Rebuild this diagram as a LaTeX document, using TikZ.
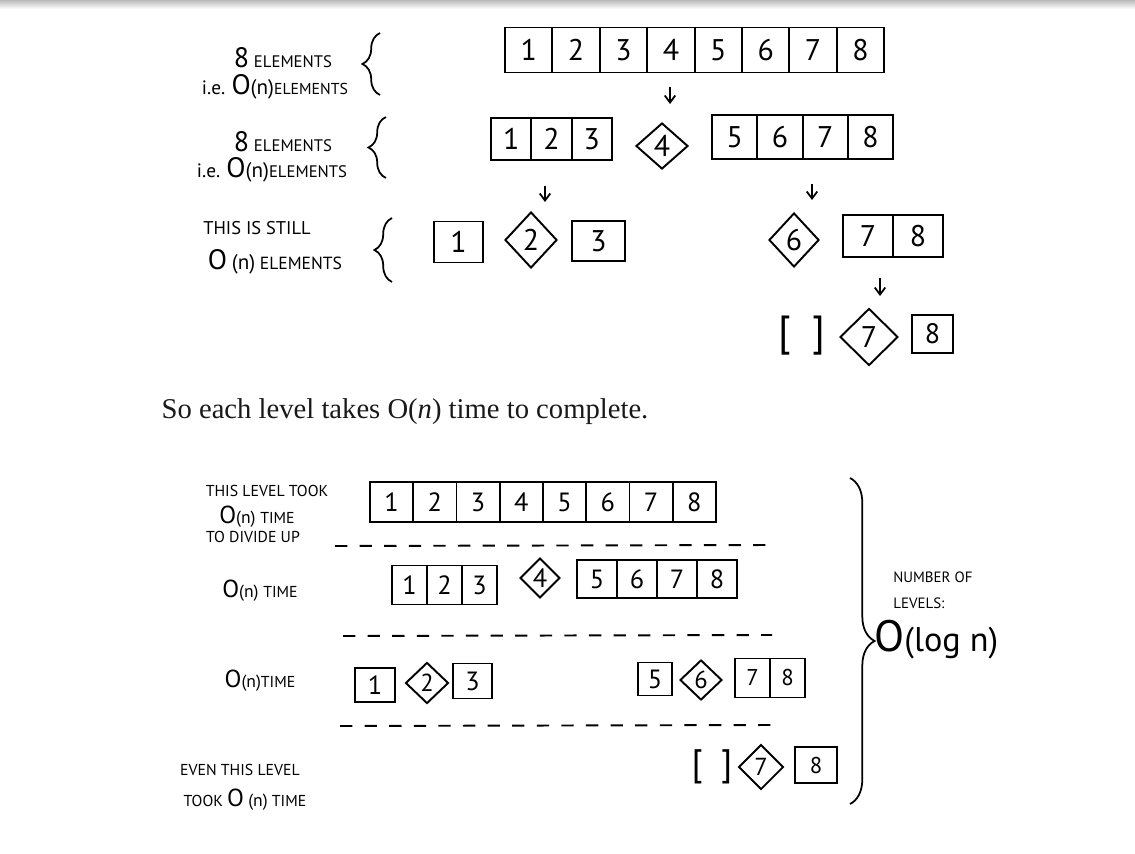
\documentclass[tikz,border=0pt]{standalone}
\usepackage{fontspec}
\setmainfont{Liberation Serif}
\newfontfamily\hand{PT Sans}
\usetikzlibrary{shapes.geometric,decorations.pathreplacing,arrows.meta}
\newcommand\fs[1]{\fontsize{#1}{#1}\selectfont}
% \cells{name}{left x}{center y}{cell width}{height}{font size}{list}
\newcommand\cells[7]{%
  \foreach \v [count=\i] in {#7} {%
    \node[cell,minimum width={#4*0.02cm},minimum height={#5*0.02cm},font={\hand\fs{#6}}]
      (#1-\i) at ({#2+(\i-0.5)*#4},#3) {\v};}}
\begin{document}
\begin{tikzpicture}[x=0.02cm,y=-0.02cm,
  cell/.style={draw,line width=1.1pt,inner sep=0pt},
  piv/.style={draw,diamond,line width=1.1pt,inner sep=0pt,font=\hand},
  lab/.style={font=\hand,inner sep=0pt,align=center},
  arr/.style={line width=1pt,-{Straight Barb[length=4pt,width=6pt]}},
  brc/.style={decorate,decoration={brace,amplitude=#1},line width=1pt},
  dsh/.style={line width=1.1pt,dash pattern=on 7pt off 7pt},
]
\path[use as bounding box] (0,0) rectangle (1135,854);
\shade[top color=gray!55,bottom color=white] (0,0) rectangle (1135,9);

% ---------------- top part ----------------
\node[lab] (t1a) at (283,58) {{\fs{16}8} {\fs{9.5}ELEMENTS}};
\node[lab] (t1b) at (275,87) {{\fs{11}i.e.} {\fs{16}O}{\fs{12}(n)}{\fs{9}ELEMENTS}};
\draw[brc=10pt] (380,95) -- (380,33);
\node[lab] (t2a) at (283,142) {{\fs{16}8} {\fs{9.5}ELEMENTS}};
\node[lab] (t2b) at (272,170) {{\fs{11}i.e.} {\fs{16}O}{\fs{12}(n)}{\fs{9.5}ELEMENTS}};
\draw[brc=10pt] (386,178) -- (386,117);
\node[lab] (t3a) at (257,228) {\fs{10.5}THIS IS STILL};
\node[lab] (t3b) at (275,262) {{\fs{16}O} {\fs{12}(n)} {\fs{10}ELEMENTS}};
\draw[brc=10pt] (392,282) -- (392,218);

\cells{r1}{505}{50}{47.4}{45}{17}{1,2,3,4,5,6,7,8}
\cells{r2a}{491}{139}{40.3}{42}{17}{1,2,3}
\node[piv,minimum width={52*0.02cm},minimum height={46*0.02cm},font={\hand\fs{17}}] (p4) at (662,146) {4};
\cells{r2b}{712}{137}{45.3}{44}{17}{5,6,7,8}
\coordinate (a1s) at (670,87); \coordinate (a1e) at (670,104);
\draw[arr] (a1s) -- (a1e);
\coordinate (a2s) at (545,186); \coordinate (a2e) at (545,202);
\draw[arr] (a2s) -- (a2e);
\coordinate (a3s) at (812,184); \coordinate (a3e) at (812,200);
\draw[arr] (a3s) -- (a3e);

\cells{r3a}{434}{242}{49}{41}{17}{1}
\node[piv,minimum width={52*0.02cm},minimum height={56*0.02cm},font={\hand\fs{17}}] (p2) at (531,240) {2};
\cells{r3b}{572}{241}{53}{40}{17}{3}
\node[piv,minimum width={50*0.02cm},minimum height={54*0.02cm},font={\hand\fs{17}}] (p6) at (794,240) {6};
\cells{r3c}{843}{236}{50}{42}{17}{7,8}
\coordinate (a4s) at (880,278); \coordinate (a4e) at (880,296);
\draw[arr] (a4s) -- (a4e);

\node[lab,font={\hand\fs{24}}] (e1) at (802,336) {[\,\,\,]};
\node[piv,minimum width={58*0.02cm},minimum height={57*0.02cm},font={\hand\fs{17}}] (p7) at (869,337) {7};
\cells{r4}{912}{334}{41}{38}{16}{8}

% ---------------- sentence ----------------
\node[inner sep=0pt,font=\fs{16.3},text=black!90] (sent) at (405,412) {So each level takes O(\textit{n}) time to complete.};

% ---------------- bottom part ----------------
\node[lab] (b1a) at (267,491) {\fs{9}THIS LEVEL TOOK};
\node[lab] (b1b) at (257,517) {{\fs{14}O}{\fs{10}(n)} {\fs{9}TIME}};
\node[lab] (b1c) at (253,537) {\fs{9}TO DIVIDE UP};
\cells{s1}{370}{502}{43.25}{40}{15}{1,2,3,4,5,6,7,8}
\coordinate (d1s) at (335,546); \coordinate (d1e) at (772,545);
\draw[dsh] (d1s) -- (d1e);

\node[lab] (b2) at (260,591) {{\fs{14}O}{\fs{10}(n)} {\fs{9}TIME}};
\cells{s2a}{392}{585}{35}{39}{15}{1,2,3}
\node[piv,minimum width={40*0.02cm},minimum height={40*0.02cm},font={\hand\fs{15}}] (q4) at (540,578) {4};
\cells{s2b}{577}{579}{40}{38}{15}{5,6,7,8}
\coordinate (d2s) at (343,636); \coordinate (d2e) at (772,635);
\draw[dsh] (d2s) -- (d2e);

\node[lab] (b3) at (260,681) {{\fs{14}O}{\fs{10}(n)}{\fs{9}TIME}};
\cells{s3a}{355}{685}{40}{34}{15}{1}
\node[piv,minimum width={43*0.02cm},minimum height={41*0.02cm},font={\hand\fs{14}}] (q2) at (427,683) {2};
\cells{s3b}{453}{681}{39}{35}{15}{3}
\cells{s3c}{638}{679}{34}{33}{15}{5}
\node[piv,minimum width={42*0.02cm},minimum height={40*0.02cm},font={\hand\fs{14}}] (q6) at (701,680) {6};
\cells{s3d}{735}{678}{35}{39}{13}{7,8}
\coordinate (d3s) at (340,726); \coordinate (d3e) at (772,725);
\draw[dsh] (d3s) -- (d3e);

\node[lab,font={\hand\fs{21}}] (e2) at (712,767) {[\,\,\,]};
\node[piv,minimum width={45*0.02cm},minimum height={45*0.02cm},font={\hand\fs{14}}] (q7) at (761,767) {7};
\cells{s4}{795}{765}{42}{36}{13}{8}
\node[lab] (b4a) at (240,770) {\fs{9}EVEN THIS LEVEL};
\node[lab] (b4b) at (245,800) {\fs{9}TOOK {\fs{14}O} {\fs{10}(n)} TIME};

\draw[brc=14pt] (850,478) -- (850,804);
\node[lab,anchor=west,align=left] (nl) at (893,590) {\fs{8.5}NUMBER OF\\[3pt]\fs{8.5}LEVELS:};
\node[lab,anchor=west] (ol) at (874,640) {{\fs{25}O}{\fs{19.5}(log n)}};
\end{tikzpicture}
\end{document}
